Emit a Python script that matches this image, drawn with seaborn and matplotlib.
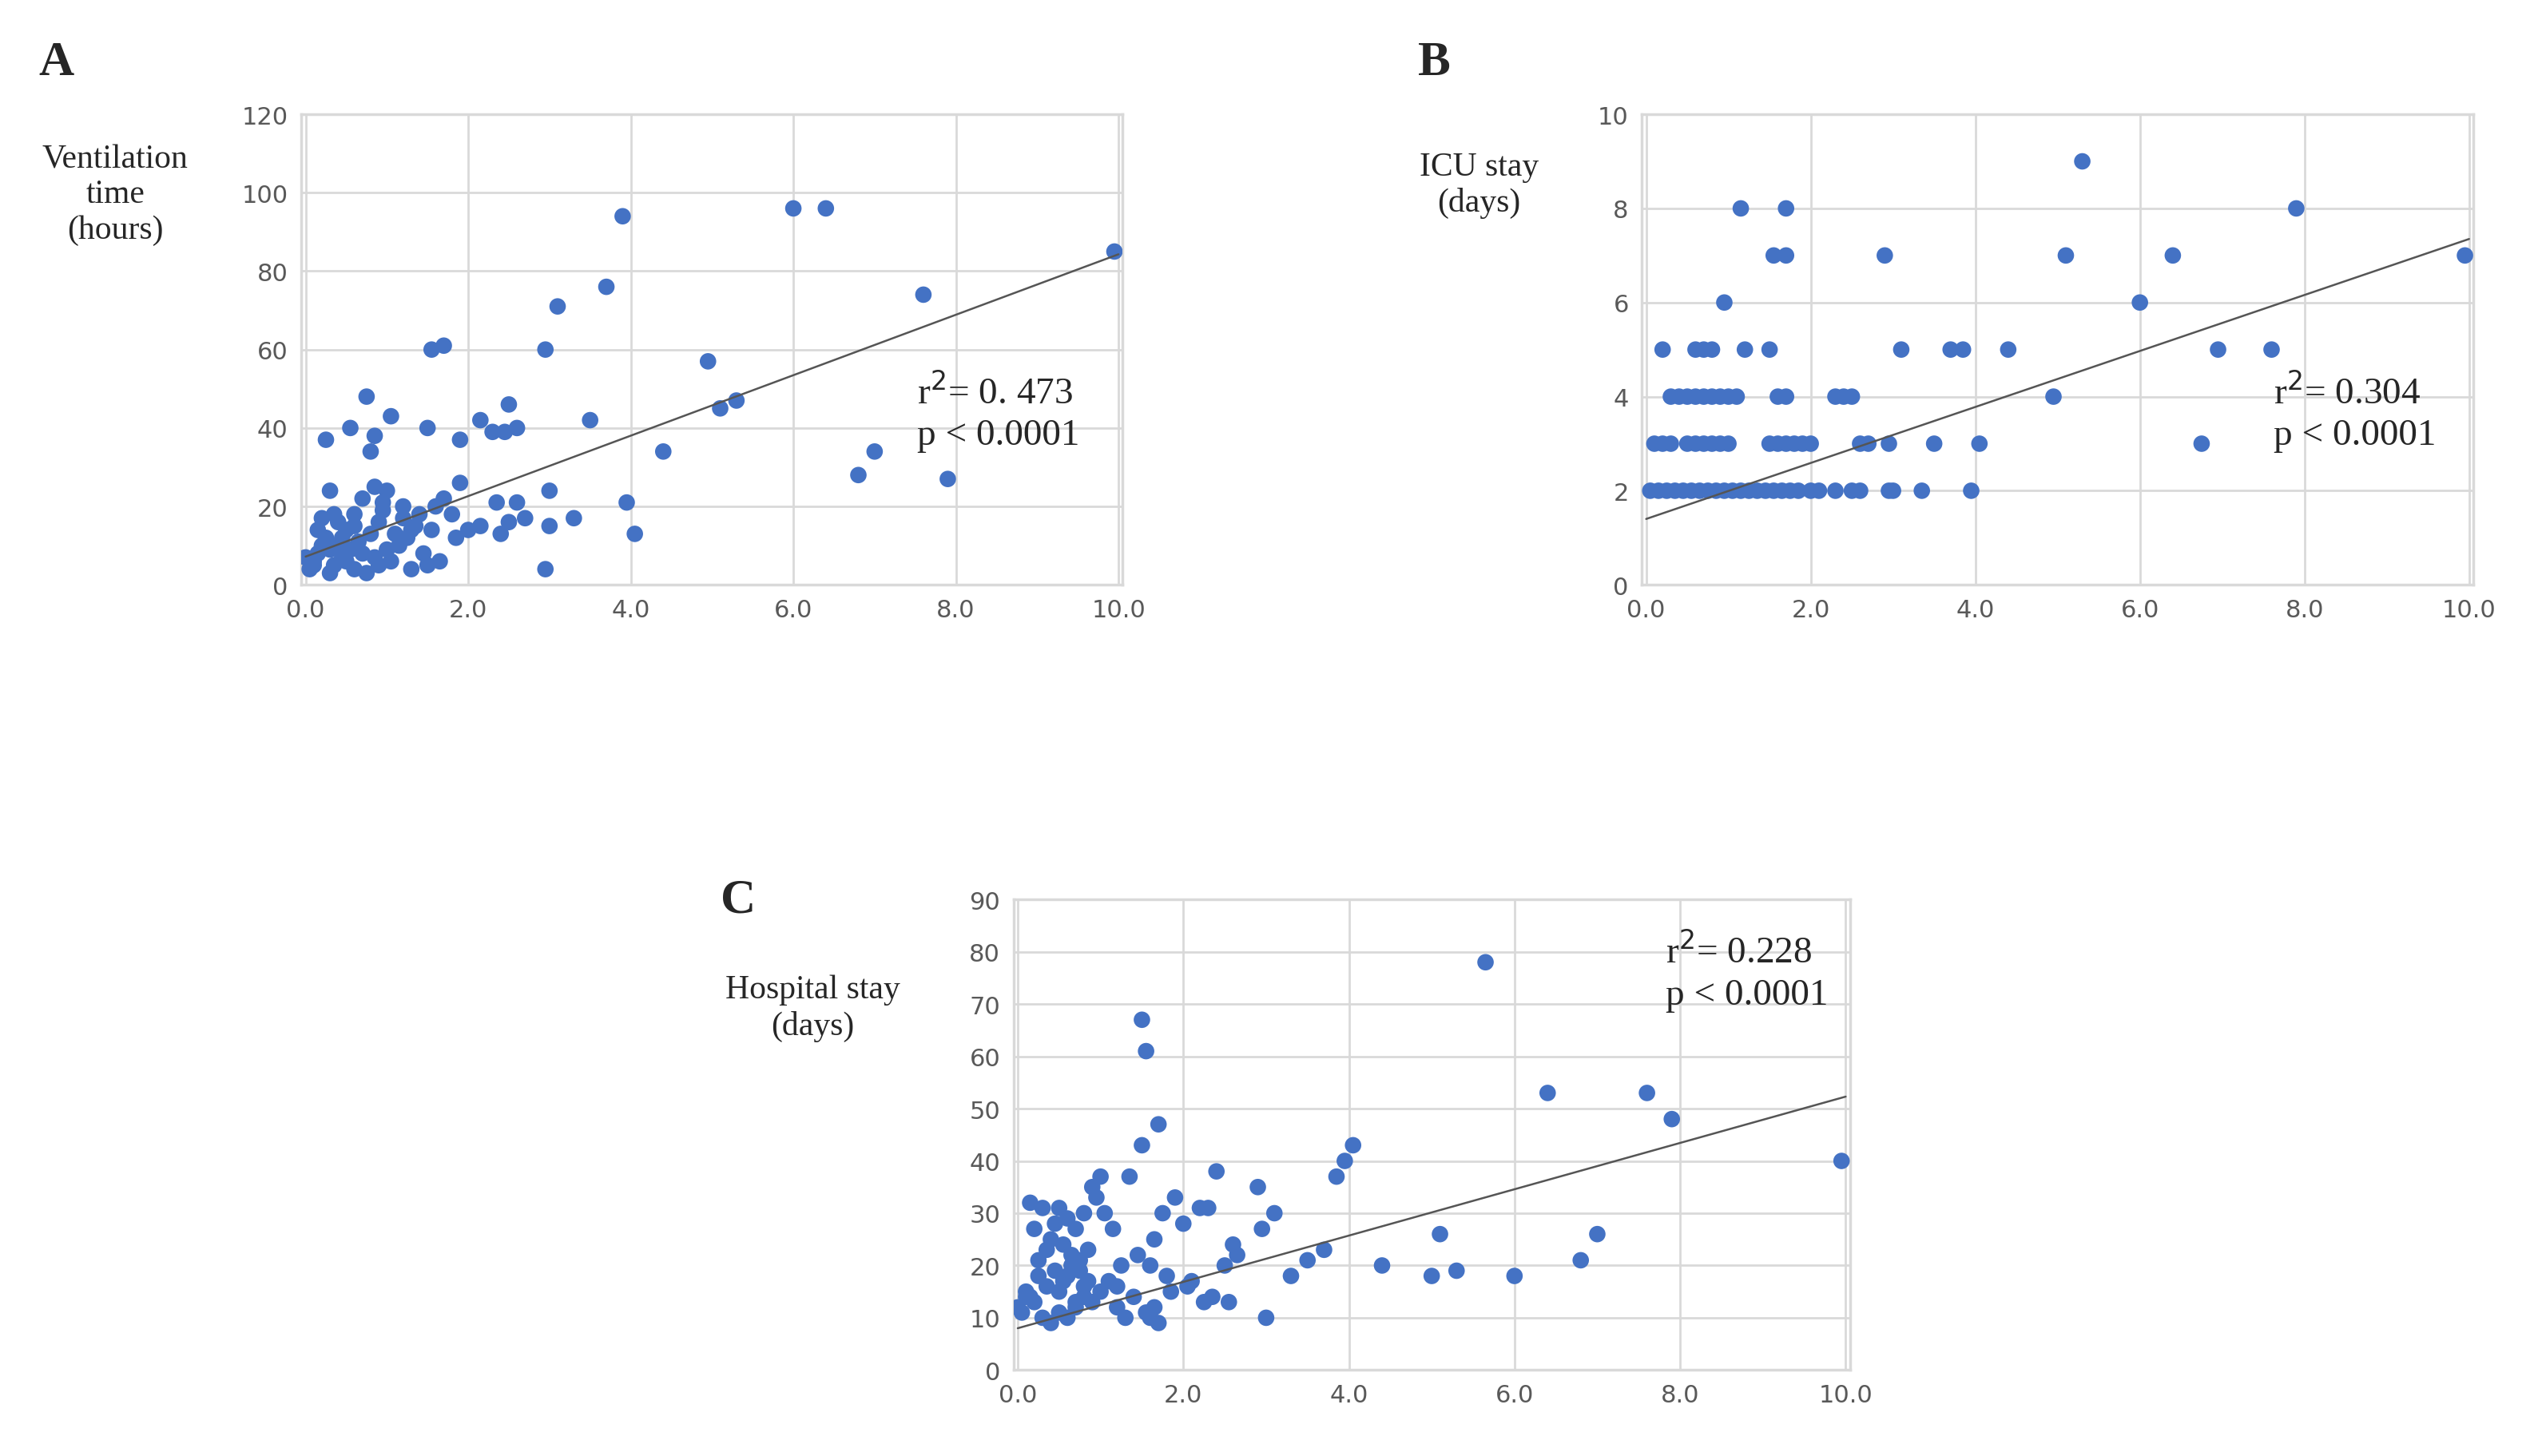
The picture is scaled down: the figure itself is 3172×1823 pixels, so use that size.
import matplotlib
matplotlib.use("Agg")
import matplotlib.pyplot as plt
import seaborn as sns
import numpy as np

sns.set_theme(style="whitegrid")
plt.rcParams["font.family"] = ["Liberation Serif", "DejaVu Serif"]

# -----------------------------------
# Data
# -----------------------------------
vent_x = [1.55, 1.7, 2.95, 3.1, 3.7, 3.9, 6.0, 6.4, 9.95, 7.6, 4.95, 5.1, 5.3, 7.0, 6.8, 7.9, 4.4, 3.5,
          3.95, 4.05, 3.0, 3.0, 2.95, 3.3, 2.5, 2.6, 2.45, 2.3, 2.15, 1.9, 1.5, 1.05, 0.75, 0.55, 0.25,
          0.85, 0.8, 0.3, 1.9, 2.6, 2.35, 2.7, 2.5, 2.4, 2.15, 2.0, 1.85, 1.65, 1.5, 1.3, 1.45, 1.7, 1.6,
          1.8, 1.35, 1.2, 1.1, 1.0, 0.95, 0.9, 0.7, 0.6, 0.5, 0.4, 0.35, 0.2, 0.15, 0.05, 0.1, 0.3, 0.5,
          0.6, 0.75, 0.85, 0.9, 1.05, 1.15, 1.25, 0.45, 0.55, 0.65, 0.8, 0.7, 0.4, 0.25, 0.15, 1.0, 1.2,
          1.4, 1.55, 0.35, 0.95, 0.85, 0.6, 0.45, 0.2, 0.0, 0.1, 0.3, 1.3]
vent_y = [60, 61, 60, 71, 76, 94, 96, 96, 85, 74, 57, 45, 47, 34, 28, 27, 34, 42,
          21, 13, 24, 15, 4, 17, 46, 40, 39, 39, 42, 37, 40, 43, 48, 40, 37,
          38, 34, 24, 26, 21, 21, 17, 16, 13, 15, 14, 12, 6, 5, 4, 8, 22, 20,
          18, 15, 20, 13, 24, 19, 16, 22, 18, 14, 10, 5, 17, 8, 4, 6, 3, 6,
          4, 3, 7, 5, 6, 10, 12, 12, 9, 11, 13, 8, 16, 12, 14, 9, 17,
          18, 14, 18, 21, 25, 15, 7, 10, 7, 5, 9, 14]

icu_x = [0.05, 0.15, 0.25, 0.35, 0.45, 0.55, 0.65, 0.75, 0.85, 0.95, 1.05, 1.15, 1.25, 1.35, 1.45,
         1.55, 1.65, 1.75, 1.85, 2.0, 2.1, 2.3, 2.5, 2.6, 2.95, 3.0, 3.35, 3.95,
         0.1, 0.2, 0.3, 0.5, 0.6, 0.7, 0.8, 0.9, 1.0, 1.5, 1.6, 1.7, 1.8, 1.9, 2.0, 2.6, 2.7, 2.95,
         3.5, 4.05, 6.75,
         0.3, 0.4, 0.5, 0.6, 0.7, 0.8, 0.9, 1.0, 1.1, 1.6, 1.7, 2.3, 2.4, 2.5, 4.95,
         0.2, 0.6, 0.7, 0.8, 1.2, 1.5, 3.1, 3.7, 3.85, 4.4, 6.95, 7.6,
         0.95, 6.0, 1.55, 1.7, 2.9, 5.1, 6.4, 9.95, 1.15, 1.7, 7.9, 5.3]
icu_y = [2, 2, 2, 2, 2, 2, 2, 2, 2, 2, 2, 2, 2, 2, 2,
         2, 2, 2, 2, 2, 2, 2, 2, 2, 2, 2, 2, 2,
         3, 3, 3, 3, 3, 3, 3, 3, 3, 3, 3, 3, 3, 3, 3, 3, 3, 3,
         3, 3, 3,
         4, 4, 4, 4, 4, 4, 4, 4, 4, 4, 4, 4, 4, 4, 4,
         5, 5, 5, 5, 5, 5, 5, 5, 5, 5, 5, 5,
         6, 6, 7, 7, 7, 7, 7, 7, 8, 8, 8, 9]

hosp_x = [5.65, 1.5, 1.55, 6.4, 7.6, 7.9, 9.95, 1.7, 1.5, 4.05, 3.95, 3.85, 3.7, 3.5, 3.3, 4.4,
          5.0, 5.1, 5.3, 6.0, 6.8, 7.0, 2.9, 3.1, 2.95, 3.0, 2.4, 2.2, 2.3, 1.9, 1.75, 1.65, 1.35,
          1.0, 0.95, 0.9, 0.8, 0.7, 0.6, 0.5, 0.4, 0.3, 0.2, 0.1, 0.15, 0.25, 0.35, 0.45, 0.55,
          0.65, 0.75, 0.85, 1.05, 1.15, 1.25, 1.45, 1.6, 1.8, 2.0, 2.1, 2.5, 2.6, 2.65, 2.55,
          0.05, 0.0, 0.1, 0.2, 0.3, 0.4, 0.5, 0.6, 0.7, 0.8, 0.9, 1.0, 1.1, 1.2, 1.3, 1.4, 1.55,
          1.65, 1.7, 1.85, 2.05, 2.25, 2.35, 0.45, 0.55, 0.65, 0.75, 0.85, 0.35, 0.25, 0.15,
          0.5, 0.6, 0.7, 0.8, 1.2, 1.6]
hosp_y = [78, 67, 61, 53, 53, 48, 40, 47, 43, 43, 40, 37, 23, 21, 18, 20,
          18, 26, 19, 18, 21, 26, 35, 30, 27, 10, 38, 31, 31, 33, 30, 25, 37,
          37, 33, 35, 30, 27, 29, 31, 25, 31, 27, 15, 32, 21, 23, 28, 24,
          22, 19, 17, 30, 27, 20, 22, 20, 18, 28, 17, 20, 24, 22, 13,
          11, 12, 14, 13, 10, 9, 11, 10, 12, 14, 13, 15, 17, 16, 10, 14, 11,
          12, 9, 15, 16, 13, 14, 19, 17, 20, 21, 23, 16, 18, 14,
          15, 18, 13, 16, 12, 10]

# letter, x, y, rect, ylim, ystep, fit line ends, ylabel, stats, stats pos, ylabel pos, letter pos
panels = [
    ("A", vent_x, vent_y, (0.119, 0.598, 0.324, 0.323), (0, 120), 20, (7.2, 84.3),
     "Ventilation\ntime\n(hours)", "r$^2$= 0. 473\np < 0.0001", (0.75, 0.45), (-0.227, 0.83), (-0.32, 1.11)),
    ("B", icu_x, icu_y, (0.648, 0.598, 0.328, 0.323), (0, 10), 2, (1.4, 7.35),
     "ICU stay\n(days)", "r$^2$= 0.304\np < 0.0001", (0.76, 0.45), (-0.196, 0.85), (-0.27, 1.11)),
    ("C", hosp_x, hosp_y, (0.400, 0.059, 0.330, 0.323), (0, 90), 10, (8.0, 52.3),
     "Hospital stay\n(days)", "r$^2$= 0.228\np < 0.0001", (0.78, 0.93), (-0.24, 0.77), (-0.35, 1.0)),
]

fig = plt.figure(figsize=(15.86, 9.12), dpi=200)

for letter, xs, ys, rect, ylim, ystep, line, ylab, stat, spos, lpos, kpos in panels:
    ax = fig.add_axes(rect)
    sns.scatterplot(x=xs, y=ys, ax=ax, color="#4472c4", s=55, edgecolor="none", zorder=3)
    ax.plot([0, 10], list(line), color="#555555", lw=0.9, zorder=4)
    ax.set_xlim(-0.05, 10.05)
    ax.set_ylim(*ylim)
    ax.set_xticks(np.arange(0, 10.1, 2))
    ax.set_xticklabels([f"{v:.1f}" for v in np.arange(0, 10.1, 2)])
    ax.set_yticks(np.arange(ylim[0], ylim[1] + 0.1, ystep))
    ax.grid(color="#d9d9d9", lw=1)
    for sp in ax.spines.values():
        sp.set_visible(True)
        sp.set_color("#d9d9d9")
    ax.tick_params(length=0, labelsize=11, labelcolor="#595959", pad=6)
    for t in ax.get_xticklabels() + ax.get_yticklabels():
        t.set_family("DejaVu Sans")
    ax.text(spos[0], spos[1], stat, transform=ax.transAxes, fontsize=17,
            va="top", ha="left", linespacing=1.3)
    ax.text(lpos[0], lpos[1], ylab, transform=ax.transAxes, fontsize=15,
            ha="center", va="center", linespacing=1.2)
    ax.text(kpos[0], kpos[1], letter, transform=ax.transAxes, fontsize=22,
            fontweight="bold", ha="left", va="center")

fig.savefig("out.png", dpi=200, facecolor="white")
